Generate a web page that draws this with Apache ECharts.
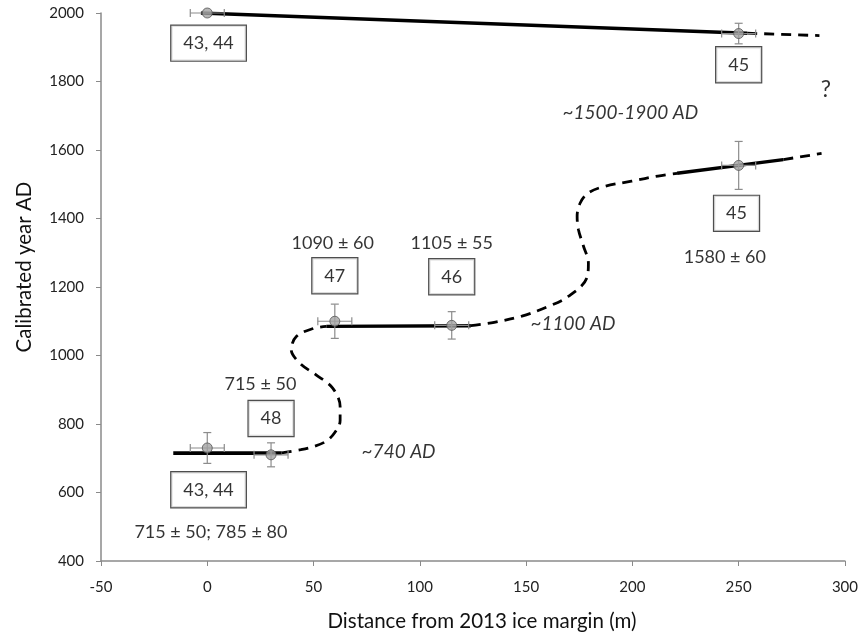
<!DOCTYPE html>
<html>
<head>
<meta charset="utf-8">
<script src="https://cdn.jsdelivr.net/npm/echarts@6/dist/echarts.min.js"></script>
<style>
  html, body { margin: 0; padding: 0; background: #fff; }
  #chart { width: 861px; height: 640px; }
</style>
</head>
<body>
<div id="chart"></div>
<script>
// dated samples: [distance, year, x error, y error]
var samples = [
    [0, 2000, 8, 0],
    [250, 1940, 8, 30],
    [250, 1555, 8, 70],
    [60, 1100, 8, 50],
    [115, 1088, 8, 40],
    [0, 730, 8, 45],
    [30, 710, 8, 35]
];

// solid segments
var solidTop = [[-3, 2000], [254, 1941]];
var solidUpper = [[221, 1532], [271, 1572]];
var solidMid = [[56, 1085], [124, 1087]];
var solidLow = [[-16, 715], [35, 715]];

// dashed segments
var dashTop = [[254, 1941], [288, 1934]];
var dashUpperEnd = [[271, 1572], [289, 1590]];
var dashLowS = [[35, 716], [44, 725], [50, 734], [56, 750], [60, 775], [62.5, 810], [62.5, 851],
    [59, 905], [51, 944], [43.5, 978], [39.5, 1017], [42, 1056], [50, 1079], [56, 1085]];
var dashUpperS = [[124, 1087], [135, 1097], [148, 1115], [160, 1142], [170, 1173], [178.6, 1227],
    [179.3, 1270], [177, 1319], [174.6, 1368], [174, 1407], [175.5, 1446], [179.3, 1475],
    [187, 1494], [199.6, 1509], [212, 1524], [221, 1532]];

// boxed sample numbers
var boxes = [
    {value: [0.6, 1912], name: '43, 44'},
    {value: [250, 1849], name: '45'},
    {value: [249, 1415], name: '45'},
    {value: [60, 1233], name: '47'},
    {value: [115, 1230], name: '46'},
    {value: [30, 816], name: '48'},
    {value: [0.6, 608], name: '43, 44'}
];

// age texts
var ages = [
    {value: [243.5, 1286], name: '1580 ± 60'},
    {value: [59, 1327], name: '1090 ± 60'},
    {value: [115, 1327], name: '1105 ± 55'},
    {value: [25, 916], name: '715 ± 50'},
    {value: [1.7, 484], name: '715 ± 50; 785 ± 80'}
];
var question = [{value: [291, 1777], name: '?'}];

// period texts (italic)
var periods = [
    {value: [199, 1709], name: '~1500-1900 AD'},
    {value: [172, 1093], name: '~1100 AD'},
    {value: [90, 720], name: '~740 AD'}
];

var font = 'Lato, "Open Sans", sans-serif';
var axisGray = '#8a8a8a';

var chart = echarts.init(document.getElementById('chart'));

function lineSeries(data, dashed, width) {
    return {
        type: 'line',
        data: data,
        symbol: 'none',
        smooth: dashed && data.length > 2 ? 0.35 : false,
        silent: true,
        z: 3,
        lineStyle: {color: '#000', width: width, type: dashed ? [10, 7] : 'solid'}
    };
}

function textSeries(data, size, italic, boxed) {
    return {
        type: 'scatter',
        data: data,
        symbolSize: 0,
        silent: true,
        z: 6,
        label: {
            show: true,
            position: 'inside',
            formatter: '{b}',
            color: '#000',
            fontFamily: font,
            fontSize: size,
            fontStyle: italic ? 'italic' : 'normal',
            borderColor: boxed ? '#222' : 'transparent',
            borderWidth: boxed ? 1.2 : 0,
            backgroundColor: boxed ? '#fff' : 'transparent',
            padding: boxed ? [9, 12, 8, 12] : 0
        }
    };
}

function plain(v) { return String(v); }

chart.setOption({
    animation: false,
    grid: {left: 101, right: 14, top: 13, bottom: 79},
    xAxis: {
        type: 'value',
        min: -50, max: 300, interval: 50,
        name: 'Distance from 2013 ice margin (m)',
        nameLocation: 'middle',
        nameGap: 50,
        nameTextStyle: {fontFamily: font, fontSize: 20.5, color: '#111', padding: [0, 0, 0, 18]},
        axisLine: {onZero: false, lineStyle: {color: axisGray, width: 1.5}},
        axisTick: {show: true, length: 5, lineStyle: {color: axisGray}},
        axisLabel: {fontFamily: font, fontSize: 15, color: '#222', margin: 19, formatter: plain},
        splitLine: {show: false}
    },
    yAxis: {
        type: 'value',
        min: 400, max: 2000, interval: 200,
        name: 'Calibrated year AD',
        nameLocation: 'middle',
        nameGap: 66,
        nameTextStyle: {fontFamily: font, fontSize: 20.5, color: '#111', padding: [0, 0, 0, 40]},
        axisLine: {show: true, onZero: false, lineStyle: {color: axisGray, width: 1.5}},
        axisTick: {show: true, length: 5, lineStyle: {color: axisGray}},
        axisLabel: {fontFamily: font, fontSize: 15, color: '#222', margin: 17, formatter: plain},
        splitLine: {show: false}
    },
    series: [
        lineSeries(solidTop, false, 3.4),
        lineSeries(solidUpper, false, 3.4),
        lineSeries(solidMid, false, 3.4),
        lineSeries(solidLow, false, 3.8),
        lineSeries(dashTop, true, 2.8),
        lineSeries(dashUpperEnd, true, 2.8),
        lineSeries(dashLowS, true, 2.8),
        lineSeries(dashUpperS, true, 2.8),
        {
            // error bars
            type: 'custom',
            data: samples,
            silent: true,
            z: 4,
            renderItem: function (params, api) {
                var x = api.value(0), y = api.value(1);
                var ex = api.value(2), ey = api.value(3);
                var l = api.coord([x - ex, y]), r = api.coord([x + ex, y]);
                var t = api.coord([x, y + ey]), b = api.coord([x, y - ey]);
                var st = {stroke: '#8c8c8c', lineWidth: 1.2};
                var cap = 4;
                var kids = [
                    {type: 'line', shape: {x1: l[0], y1: l[1], x2: r[0], y2: r[1]}, style: st},
                    {type: 'line', shape: {x1: l[0], y1: l[1] - cap, x2: l[0], y2: l[1] + cap}, style: st},
                    {type: 'line', shape: {x1: r[0], y1: r[1] - cap, x2: r[0], y2: r[1] + cap}, style: st}
                ];
                if (ey > 0) {
                    kids.push(
                        {type: 'line', shape: {x1: t[0], y1: t[1], x2: b[0], y2: b[1]}, style: st},
                        {type: 'line', shape: {x1: t[0] - cap, y1: t[1], x2: t[0] + cap, y2: t[1]}, style: st},
                        {type: 'line', shape: {x1: b[0] - cap, y1: b[1], x2: b[0] + cap, y2: b[1]}, style: st}
                    );
                }
                return {type: 'group', children: kids};
            }
        },
        {
            type: 'scatter',
            data: samples.map(function (d) { return [d[0], d[1]]; }),
            symbol: 'circle',
            symbolSize: 10,
            silent: true,
            z: 5,
            itemStyle: {color: '#a3a3a3', borderColor: '#555', borderWidth: 1}
        },
        textSeries(boxes, 18, false, true),
        textSeries(ages, 18, false, false),
        textSeries(question, 23, false, false),
        textSeries(periods, 19, true, false)
    ]
});
</script>
</body>
</html>
